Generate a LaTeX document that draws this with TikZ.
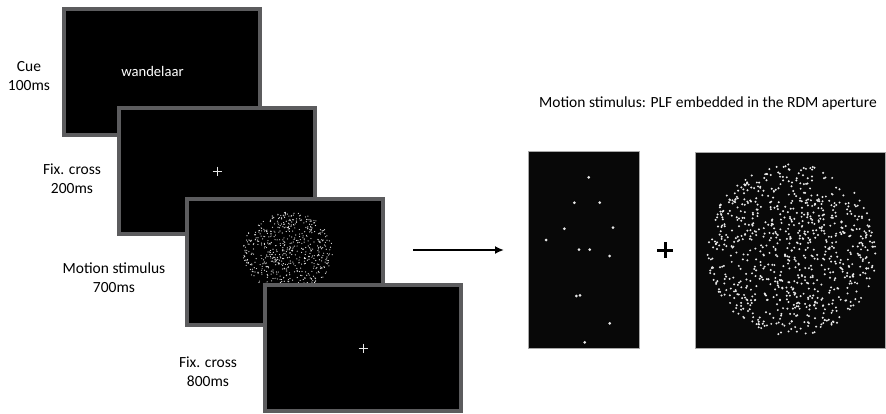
\documentclass[tikz,border=0pt]{standalone}
\usepackage{fontspec}
\setmainfont{Carlito}
\usetikzlibrary{arrows.meta,calc}
\definecolor{rim}{HTML}{5C5C5E}
\definecolor{dotc}{HTML}{E8E8E8}
\definecolor{panelrim}{HTML}{A8A8A8}
\begin{document}
\begin{tikzpicture}[x=1pt,y=-1pt,
  screen/.style={fill=black,draw=rim,line width=4pt,minimum width=196pt,minimum height=126pt,inner sep=0pt},
  panel/.style={fill=black!97,draw=panelrim,line width=0.8pt,inner sep=0pt},
  lbl/.style={align=center,font=\fontsize{15.5}{19}\selectfont,inner sep=0pt},
  fixcross/.style={draw=dotc,line width=0.9pt}]
\useasboundingbox (0,0) rectangle (886,413);
\pgfmathsetseed{4172}

% screen 1: cue word
\node[screen] (s1) at (161.5,71.5) {};
\node[lbl,text=white,font=\fontsize{14.6}{17}\selectfont] (cueword) at (152.5,71) {wandelaar};
\node[lbl] (l1) at (29,76) {Cue\\100ms};

% screen 2: fixation
\node[screen] (s2) at (217,171) {};
\draw[fixcross] ($(s2)+(-4.5,0)$) -- ($(s2)+(4.5,0)$) ($(s2)+(0,-4.5)$) -- ($(s2)+(0,4.5)$);
\node[lbl] (l2) at (72,179) {Fix. cross\\200ms};

% screen 3: motion stimulus with dot cloud
\node[screen] (s3) at (284.5,262) {};
\coordinate (c3) at (288,252);
\foreach \i in {1,...,620}{
  \pgfmathsetmacro\rr{sqrt(rnd)}
  \pgfmathsetmacro\aa{360*rnd}
  \fill[dotc] ($(c3)+({45*\rr*cos(\aa)},{40*\rr*sin(\aa)})$) circle (0.6);
}
\node[lbl] (l3) at (114,278) {Motion stimulus\\700ms};

% screen 4: fixation
\node[screen] (s4) at (363,348) {};
\draw[fixcross] ($(s4)+(-4.5,0)$) -- ($(s4)+(4.5,0)$) ($(s4)+(0,-4.5)$) -- ($(s4)+(0,4.5)$);
\node[lbl] (l4) at (208,372) {Fix. cross\\800ms};

% arrow towards the stimulus decomposition
\coordinate (a1) at (413,250);
\coordinate (a2) at (504,250);
\draw[line width=2.2pt,-{Latex[length=9pt,width=8pt]}] (a1) -- (a2);

\node[lbl] (title) at (708,103) {Motion stimulus: PLF embedded in the RDM aperture};

% point-light figure panel
\node[panel,minimum width=111pt,minimum height=197pt] (plf) at (583.5,249.5) {};
\foreach \px/\py in {588.7/177.3,574.3/202.7,599.7/202.7,564.3/228.7,613/227.7,546/240,
  579/249.7,589.7/249.7,609.7/256,576.3/296,580/295.3,609.7/323.3,584.7/342.3}
  \fill[dotc] (\px,\py) circle (1.5);

% plus sign
\node[inner sep=0pt] (plus) at (665,250) {};
\draw[line width=3pt] ($(plus)+(-8,0)$) -- ($(plus)+(8,0)$) ($(plus)+(0,-8)$) -- ($(plus)+(0,8)$);

% random-dot aperture panel
\node[panel,minimum width=190pt,minimum height=196pt] (rdm) at (790.5,250) {};
\coordinate (c5) at (792,250);
\foreach \i in {1,...,850}{
  \pgfmathsetmacro\rr{sqrt(rnd)}
  \pgfmathsetmacro\aa{360*rnd}
  \fill[dotc] ($(c5)+({85*\rr*cos(\aa)},{86*\rr*sin(\aa)})$) circle (1.1);
}
\end{tikzpicture}
\end{document}
